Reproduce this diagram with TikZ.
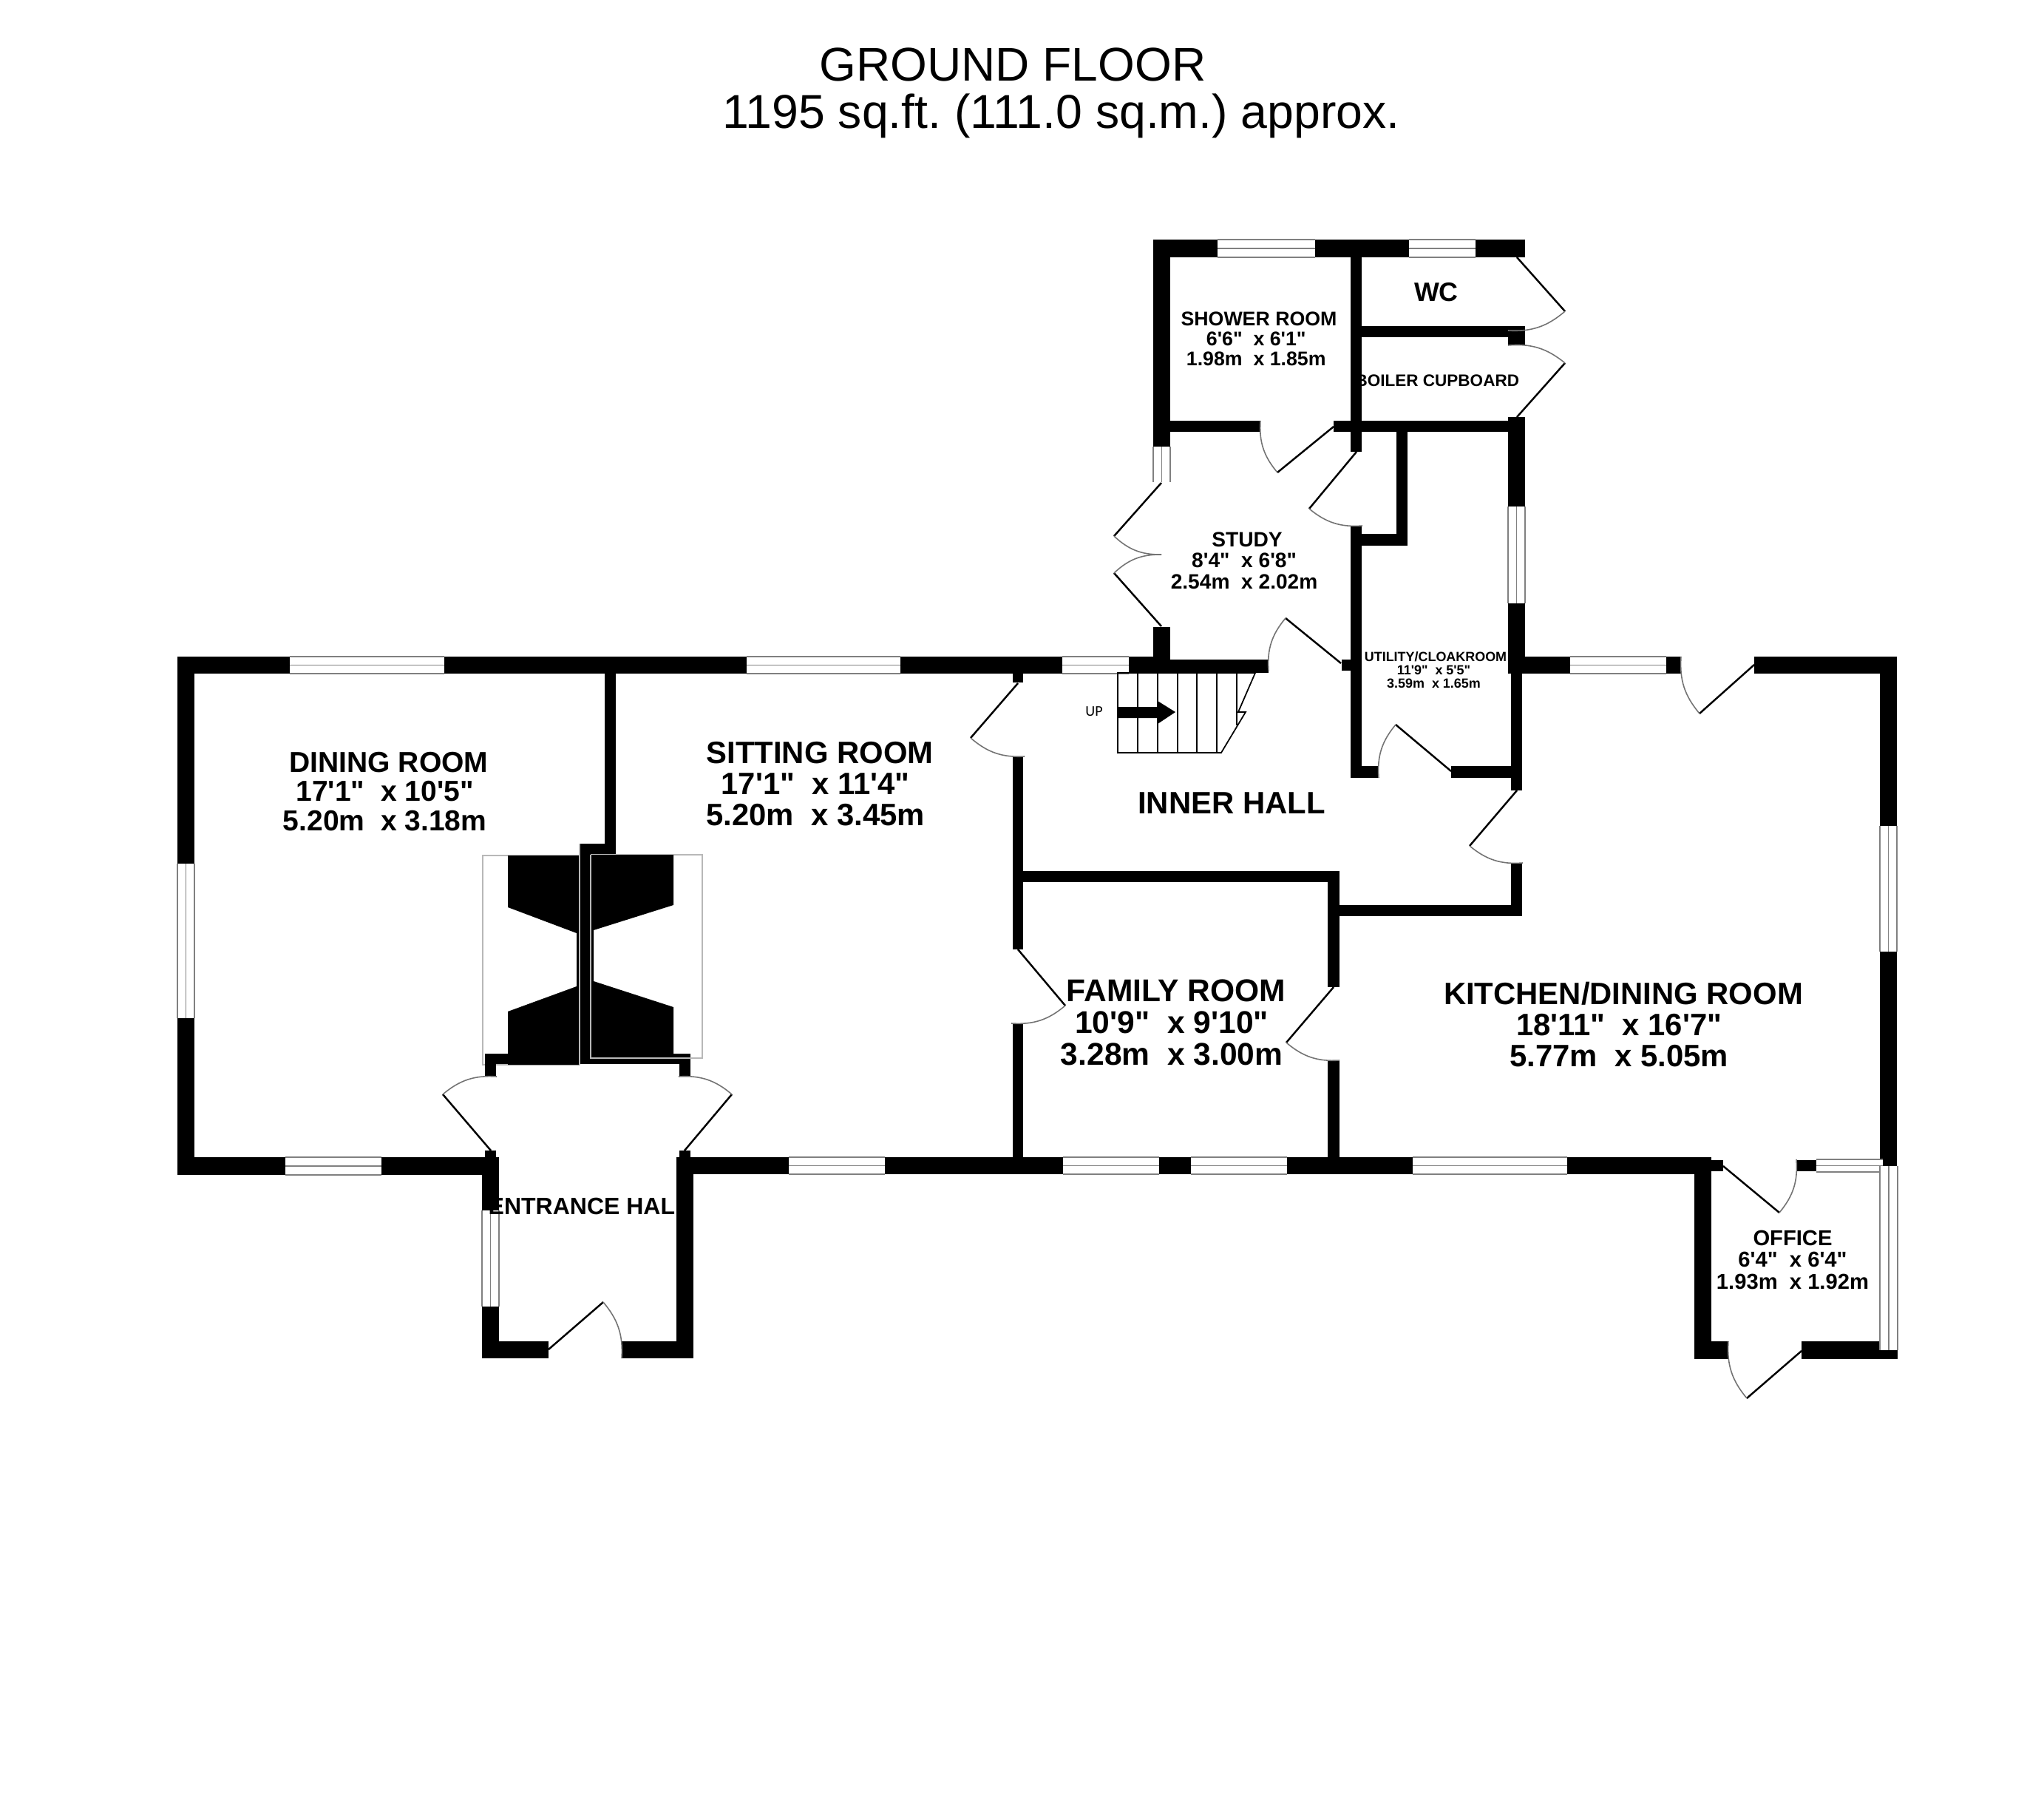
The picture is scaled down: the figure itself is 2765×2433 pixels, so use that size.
\documentclass[tikz,border=0pt]{standalone}
\usepackage{fontspec}
\newfontfamily\planfont{Liberation Sans}
\newfontfamily\upfont{Carlito}
\newcommand{\tailsp}{\rule{.278em}{0pt}}
\newcommand{\gapsp}{\ \ }

\begin{document}
\begin{tikzpicture}[x=0.01cm,y=-0.01cm,
	wall/.style={fill=black},
	glass/.style={draw=black!50,line width=0.55pt},
	chimneyline/.style={draw=black!28,line width=0.5pt},
	leaf/.style={draw=black,line width=0.7pt},
	swing/.style={draw=black!55,line width=0.45pt},
	tread/.style={draw=black,line width=0.5pt},
	title/.style={anchor=base west,inner sep=0pt,font=\planfont\frenchspacing\fontsize{#1}{#1}\selectfont},
	room/.style={anchor=base,inner sep=0pt,align=center,font=\planfont\bfseries\fontsize{#1}{#1}\selectfont}]

	\useasboundingbox (0,0) rectangle (2765,2433);

	\draw[chimneyline] (784,1157) -- (653,1157) -- (653,1440) -- (784,1440);
	\draw[chimneyline] (799,1156) -- (950,1156) -- (950,1431) -- (799,1431);

	\foreach \xa/\ya/\xb/\yb in {
		240/888/1583/911, 240/888/263/1589, 240/1565/675/1589,
		652/1565/675/1837, 652/1814/742/1837, 841/1814/938/1837, 915/1565/938/1837,
		915/1565/2314/1588, 2292/1565/2315/1838,
		818/888/833/1155, 784/1141/833/1155, 784/1141/799/1439, 656/1425/934/1439,
		656/1439/671/1456, 919/1439/934/1456, 656/1556/671/1565, 919/1556/934/1565,
		1370/888/1384/923, 1370/1023/1384/1284, 1370/1384/1384/1565,
		1370/1178/1812/1193, 1796/1178/1812/1335, 1796/1434/1812/1565,
		1796/1224/2059/1239, 2044/1167/2059/1239,
		2044/910/2059/1069, 2040/564/2063/911,
		1827/1036/1865/1052, 1963/1036/2044/1052,
		1827/711/1842/1052, 1815/892/1827/907,
		1560/848/1583/911, 1583/892/1716/910,
		2040/888/2274/911, 2373/888/2566/911, 2543/888/2566/1577,
		1560/324/2063/348, 1560/324/1583/604, 1827/348/1842/611,
		1583/569/1705/584, 1804/569/2040/584, 1889/569/1904/738, 1842/722/1904/738,
		1842/441/2063/456, 2040/441/2063/466,
		2315/1569/2331/1584, 2430/1569/2457/1584,
		2292/1814/2338/1838, 2437/1814/2567/1838}
		\fill[wall] (\xa,\ya) rectangle (\xb,\yb);

	\fill[wall] (687,1157) -- (784,1157) -- (784,1440) -- (687,1440) -- (687,1368) -- (780,1334) -- (780,1262) -- (687,1227) -- cycle;
	\fill[wall] (799,1156) -- (911,1156) -- (911,1224) -- (803,1258) -- (803,1327) -- (911,1362) -- (911,1431) -- (799,1431) -- cycle;
	\draw[chimneyline] (784,1141) -- (784,1440) (799,1156) -- (799,1431) -- (950,1431);

	\foreach \xa/\xb/\ya/\yb in {
		392/601/888/911, 386/516/1565/1589, 1010/1218/888/911, 1067/1197/1565/1588,
		1437/1527/888/911, 1438/1568/1565/1588, 1611/1741/1565/1588, 1911/2120/1565/1588,
		2124/2254/888/911, 1647/1779/324/348, 1906/1996/324/348, 2457/2547/1568/1585}{
		\fill[white] (\xa,\ya) rectangle (\xb,\yb);
		\draw[glass] (\xa,\ya) -- (\xb,\ya) (\xa,{(\ya+\yb)/2}) -- (\xb,{(\ya+\yb)/2}) (\xa,\yb) -- (\xb,\yb);
	}
	\foreach \ya/\yb/\xa/\xb in {
		1168/1377/240/263, 1637/1767/652/675, 604/652/1560/1583, 685/816/2040/2063,
		1117/1287/2543/2566, 1577/1826/2543/2567}{
		\fill[white] (\xa,\ya) rectangle (\xb,\yb);
		\draw[glass] (\xa,\ya) -- (\xa,\yb) ({(\xa+\xb)/2},\ya) -- ({(\xa+\xb)/2},\yb) (\xb,\ya) -- (\xb,\yb);
	}

	\foreach \hx/\hy/\tx/\ty/\ex/\ey/\bd in {
		664/1556/599/1480/672/1456/22, 926/1556/990/1480/918/1456/-22,
		742/1825/816/1761/841/1837/22, 1377/924/1313/998/1386/1023/-22,
		1377/1284/1441/1360/1368/1384/22, 1804/1335/1740/1410/1812/1434/-22,
		2052/1069/1988/1144/2060/1167/-22, 1963/1043/1888/980/1865/1052/-22,
		1814/897/1739/836/1716/907/-22, 1571/653/1507/725/1571/750/-22,
		1571/847/1507/775/1571/750/22, 1804/577/1728/639/1705/569/22,
		1835/611/1771/688/1843/711/-22, 2052/348/2117/421/2040/447/22,
		2052/564/2117/491/2040/467/-22, 2373/899/2299/965/2274/888/22,
		2331/1577/2407/1640/2430/1568/-22, 2437/1827/2363/1891/2338/1814/22}{
		\draw[leaf] (\hx,\hy) -- (\tx,\ty);
		\draw[swing] (\tx,\ty) to[bend left=\bd] (\ex,\ey);
	}

	\draw[tread] (1698,910) -- (1512,910) -- (1512,1018) -- (1652,1018) -- (1685,963) -- (1675,963) -- cycle;
	\foreach \x/\yb in {1539/1018,1566/1018,1593/1018,1619/1018,1646/1018,1673/981}
		\draw[tread] (\x,910) -- (\x,\yb);
	\fill[wall] (1512,956) -- (1566,956) -- (1566,948) -- (1590,963) -- (1566,979) -- (1566,971) -- (1512,971) -- cycle;

	\node[title=18.2] (floor) at (1108,109) {GROUND FLOOR};
	\node[title=18.3] (area) at (977,173) {1195 sq.ft. (111.0 sq.m.) approx.};

	\node[room=11.1] (dining) at (526,1123) {DINING ROOM\\17'1"\gapsp x 10'5"\tailsp\\5.20m\gapsp x 3.18m\tailsp};
	\node[room=11.9] (sitting) at (1109,1116) {SITTING ROOM\\17'1"\gapsp x 11'4"\tailsp\\5.20m\gapsp x 3.45m\tailsp};
	\node[room=12.1] (family) at (1591,1440) {FAMILY ROOM\\10'9"\gapsp x 9'10"\tailsp\\3.28m\gapsp x 3.00m\tailsp};
	\node[room=11.9] (kitchen) at (2196,1442) {KITCHEN/DINING ROOM\\18'11"\gapsp x 16'7"\tailsp\\5.77m\gapsp x 5.05m\tailsp};
	\node[room=7.6] (shower) at (1703,494) {SHOWER ROOM\\6'6"\gapsp x 6'1"\tailsp\\1.98m\gapsp x 1.85m\tailsp};
	\node[room=8] (study) at (1687,796) {STUDY\\8'4"\gapsp x 6'8"\tailsp\\2.54m\gapsp x 2.02m\tailsp};
	\node[room=5.1] (utility) at (1942,930) {UTILITY/CLOAKROOM\\11'9"\gapsp x 5'5"\tailsp\\3.59m\gapsp x 1.65m\tailsp};
	\node[room=8.3] (office) at (2425,1743) {OFFICE\\6'4"\gapsp x 6'4"\\1.93m\gapsp x 1.92m};
	\node[room=11.9] (innerhall) at (1666,1100) {INNER HALL};
	\node[room=10.2] (wc) at (1943,407) {WC};
	\node[room=6.4,anchor=base west] (boiler) at (1833,522) {BOILER CUPBOARD};
	\node[room=9.1,anchor=base west] (entrance) at (660,1642) {ENTRANCE HAL};
	\node[anchor=center,inner sep=0pt,font=\upfont\fontsize{5.7}{5.7}\selectfont] (up) at (1480,962) {UP};
\end{tikzpicture}
\end{document}
